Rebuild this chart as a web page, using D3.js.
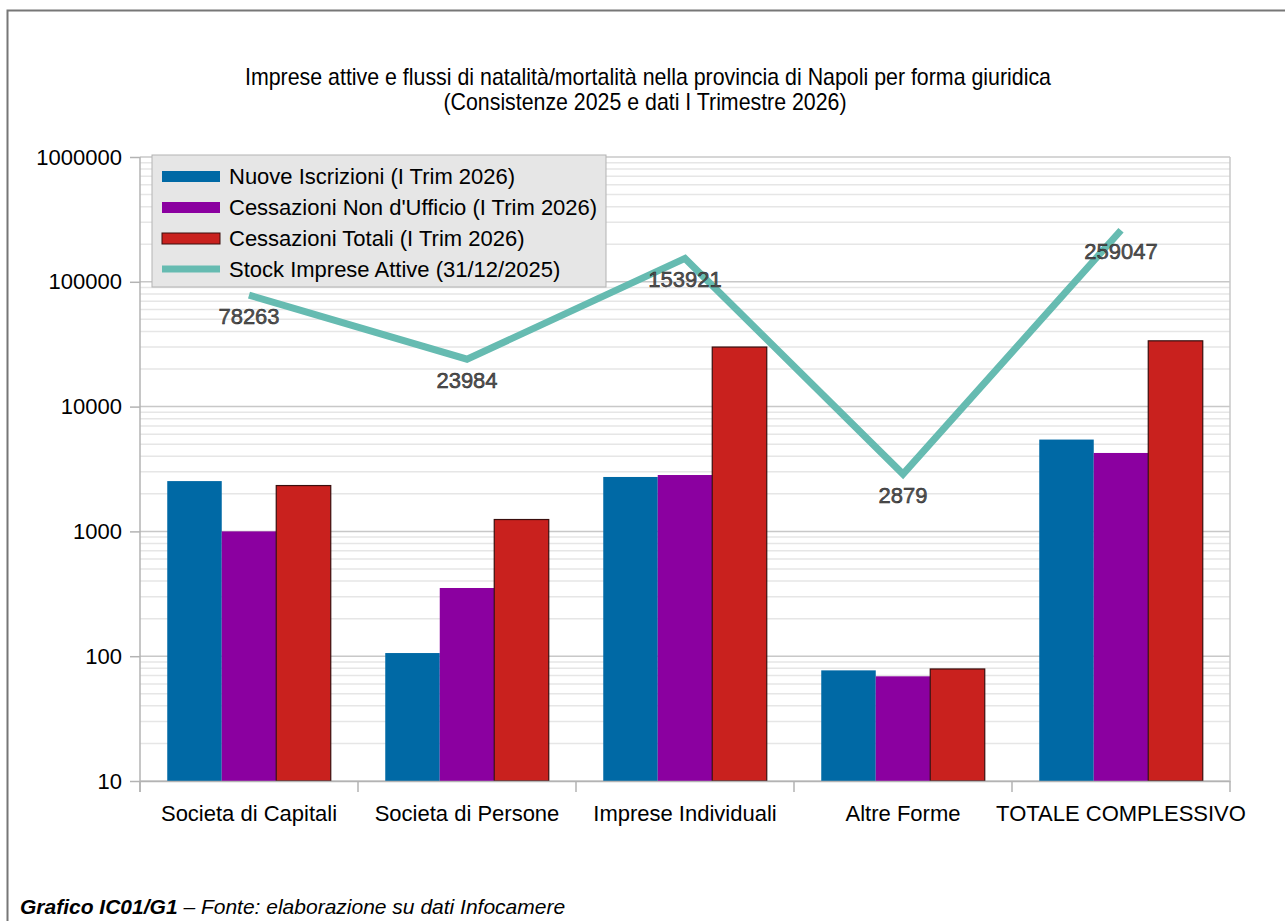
<!DOCTYPE html>
<html>
<head>
<meta charset="utf-8">
<script src="https://cdn.jsdelivr.net/npm/d3@7"></script>
<style>
  body { margin: 0; background: #fff; }
  svg { display: block; font-family: "Liberation Sans", Arial, sans-serif; }
</style>
</head>
<body>
<svg id="chart" width="1285" height="921"></svg>
<script>
// data
const categories = ["Societa di Capitali", "Societa di Persone", "Imprese Individuali", "Altre Forme", "TOTALE COMPLESSIVO"];
const nuoveIscrizioni = [2530, 106, 2730, 77, 5443];
const cessazioniNonUfficio = [1000, 352, 2830, 69, 4251];
const cessazioniTotali = [2330, 1245, 30000, 79, 33654];
const stockAttive = [78263, 23984, 153921, 2879, 259047];
const seriesNames = ["Nuove Iscrizioni (I Trim 2026)", "Cessazioni Non d'Ufficio (I Trim 2026)", "Cessazioni Totali (I Trim 2026)", "Stock Imprese Attive (31/12/2025)"];
const yTicks = [10, 100, 1000, 10000, 100000, 1000000];

const colors = ["#0069a5", "#8b00a0", "#c9211e", "#66bbb1"];

const svg = d3.select("#chart");
const plotL = 140, plotR = 1230, plotT = 157, plotB = 781;
const fs = "22px";

// outer frame (left and top edges visible)
svg.append("path").attr("d", "M7.5,921 V10.5 H1285").attr("fill", "none").attr("stroke", "#777").attr("stroke-width", 2);

// title (condensed look)
const title = svg.append("text").attr("text-anchor", "middle")
  .style("font-family", "'Liberation Sans', sans-serif").style("font-size", "24px").attr("fill", "#000");
title.append("tspan").attr("x", 648).attr("y", 85).attr("textLength", 806).attr("lengthAdjust", "spacingAndGlyphs")
  .text("Imprese attive e flussi di natalità/mortalità nella provincia di Napoli per forma giuridica");
title.append("tspan").attr("x", 645).attr("y", 110).attr("textLength", 403).attr("lengthAdjust", "spacingAndGlyphs")
  .text("(Consistenze 2025 e dati I Trimestre 2026)");

const y = d3.scaleLog().domain([10, 1000000]).range([plotB, plotT]);
const x = d3.scaleBand().domain(categories).range([plotL, plotR]);
const xs = d3.scaleBand().domain([0, 1, 2]).range([0, x.bandwidth()]).paddingOuter(0.5).paddingInner(0);

// minor grid
const minor = [];
for (let e = 1; e < 6; e++) for (let m = 2; m <= 9; m++) minor.push(m * Math.pow(10, e));
svg.append("g").selectAll("line").data(minor).join("line")
  .attr("x1", plotL).attr("x2", plotR).attr("y1", d => y(d)).attr("y2", d => y(d))
  .attr("stroke", "#e6e6e6").attr("stroke-width", 1.5);
// major grid
svg.append("g").selectAll("line").data(yTicks).join("line")
  .attr("x1", plotL).attr("x2", plotR).attr("y1", d => y(d)).attr("y2", d => y(d))
  .attr("stroke", "#c8c8c8").attr("stroke-width", 1.5);
// right border
svg.append("line").attr("x1", plotR).attr("x2", plotR).attr("y1", plotT).attr("y2", plotB)
  .attr("stroke", "#c8c8c8").attr("stroke-width", 1.5);

// y axis
const yAxis = svg.append("g").attr("transform", `translate(${plotL},0)`)
  .call(d3.axisLeft(y).tickValues(yTicks).tickFormat(d3.format("d")).tickSize(10).tickPadding(8));
yAxis.select(".domain").remove();
yAxis.selectAll(".tick line").attr("stroke", "#b3b3b3").attr("stroke-width", 1.5);
yAxis.selectAll("text").style("font-size", fs).style("font-family", "'Liberation Sans', sans-serif").attr("fill", "#000");
svg.append("line").attr("x1", plotL).attr("x2", plotL).attr("y1", plotT).attr("y2", plotB + 11)
  .attr("stroke", "#b3b3b3").attr("stroke-width", 1.5);

// bars
const series = [nuoveIscrizioni, cessazioniNonUfficio, cessazioniTotali];
series.forEach((vals, si) => {
  svg.append("g").selectAll("rect").data(vals).join("rect")
    .attr("x", (d, i) => x(categories[i]) + xs(si))
    .attr("width", xs.bandwidth())
    .attr("y", d => y(d))
    .attr("height", d => plotB - y(d))
    .attr("fill", colors[si])
    .attr("stroke", si === 2 ? "#3a0e0d" : "none")
    .attr("stroke-width", si === 2 ? 1.2 : 0);
});

// x axis
const xAxis = svg.append("g").attr("transform", `translate(0,${plotB})`)
  .call(d3.axisBottom(x).tickSize(0).tickPadding(24));
xAxis.select(".domain").attr("stroke", "#b3b3b3").attr("stroke-width", 1.5);
xAxis.selectAll("text").style("font-size", fs).style("font-family", "'Liberation Sans', sans-serif").attr("fill", "#000");
svg.append("g").selectAll("line").data(d3.range(categories.length + 1)).join("line")
  .attr("x1", i => plotL + i * x.step()).attr("x2", i => plotL + i * x.step())
  .attr("y1", plotB).attr("y2", plotB + 11)
  .attr("stroke", "#b3b3b3").attr("stroke-width", 1.5);

// stock line
const cx = c => x(c) + x.bandwidth() / 2;
svg.append("path").datum(stockAttive)
  .attr("d", d3.line().x((d, i) => cx(categories[i])).y(d => y(d)))
  .attr("fill", "none").attr("stroke", colors[3]).attr("stroke-width", 7).attr("stroke-linejoin", "miter");

svg.append("g").selectAll("text").data(stockAttive).join("text")
  .attr("x", (d, i) => cx(categories[i]))
  .attr("y", d => y(d) + 29)
  .attr("text-anchor", "middle")
  .style("font-size", fs).style("font-family", "'Liberation Sans', sans-serif")
  .attr("fill", "#555").attr("stroke", "#222").attr("stroke-width", 0.5)
  .text(d => d);

// legend
const lg = svg.append("g").attr("transform", "translate(152,155)");
lg.append("rect").attr("width", 454).attr("height", 132).attr("fill", "#e6e6e6").attr("stroke", "#b3b3b3");
seriesNames.forEach((name, i) => {
  const cy = 21 + i * 31;
  if (i < 3) {
    lg.append("rect").attr("x", 10).attr("y", cy - 5).attr("width", 58).attr("height", 11)
      .attr("fill", colors[i]).attr("stroke", i === 2 ? "#3a0e0d" : "none");
  } else {
    lg.append("line").attr("x1", 10).attr("x2", 68).attr("y1", cy).attr("y2", cy)
      .attr("stroke", colors[3]).attr("stroke-width", 7);
  }
  lg.append("text").attr("x", 77).attr("y", cy + 8).text(name)
    .style("font-size", fs).style("font-family", "'Liberation Sans', sans-serif").attr("fill", "#000");
});

// footer
const foot = svg.append("text").attr("x", 20).attr("y", 914)
  .style("font-size", "21px").style("font-style", "italic").style("font-family", "'Liberation Sans', sans-serif");
foot.append("tspan").style("font-weight", "bold").text("Grafico IC01/G1");
foot.append("tspan").text(" – Fonte: elaborazione su dati Infocamere");
</script>
</body>
</html>
